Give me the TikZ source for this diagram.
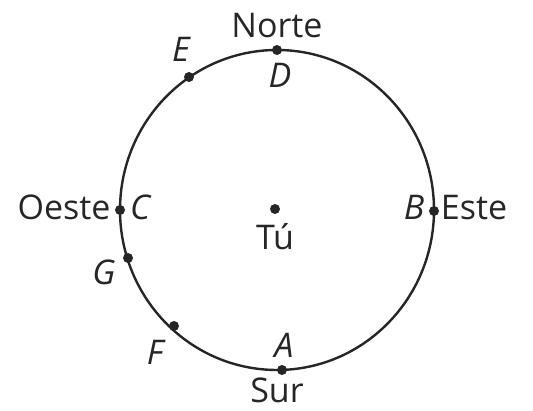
\documentclass[tikz,border=0pt]{standalone}
\usepackage{fontspec}
\setmainfont{Open Sans}
\begin{document}
\begin{tikzpicture}[x=1pt,y=1pt,
  dot/.style={circle,fill=black!85,inner sep=0pt,minimum size=10pt},
  lbl/.style={anchor=base,inner sep=0pt,font=\fontsize{34}{38}\selectfont,text=black!85},
  ilbl/.style={lbl,font=\fontsize{34}{38}\selectfont\itshape}]
\useasboundingbox (0,0) rectangle (533,411);
\draw[line width=2.4pt,black!85] (277,201) ellipse [x radius=157, y radius=160];
\node[dot] (D) at (277,361) {};
\node[dot] (A) at (282,41) {};
\node[dot] (B) at (434,200) {};
\node[dot] (C) at (120,201) {};
\node[dot] (E) at (189,334) {};
\node[dot] (G) at (128,153) {};
\node[dot] (F) at (174,85) {};
\node[dot] (O) at (275,202) {};
\node[lbl] (norte) at (277,373) {Norte};
\node[lbl] (sur) at (277,8) {Sur};
\node[lbl] (oeste) at (64,191) {Oeste};
\node[lbl] (este) at (474,191) {Este};
\node[lbl] (tu) at (275,161) {Tú};
\node[ilbl] (lE) at (181,349) {E};
\node[ilbl] (lD) at (280,323) {D};
\node[ilbl] (lC) at (140,191) {C};
\node[ilbl] (lB) at (414,191) {B};
\node[ilbl] (lG) at (104,126) {G};
\node[ilbl] (lF) at (155,46) {F};
\node[ilbl] (lA) at (284,53) {A};
\end{tikzpicture}
\end{document}
